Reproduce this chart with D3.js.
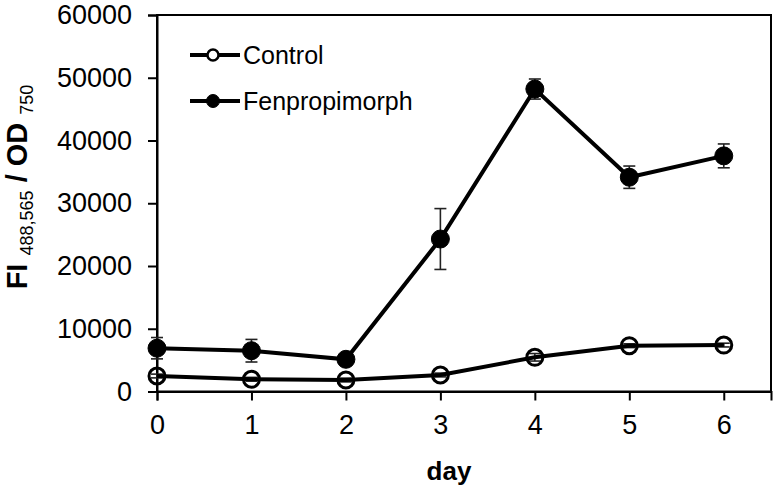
<!DOCTYPE html>
<html>
<head>
<meta charset="utf-8">
<script src="https://cdn.jsdelivr.net/npm/d3@7/dist/d3.min.js"></script>
<style>
  html, body { margin: 0; padding: 0; background: #fff; }
  svg { display: block; }
  text { font-family: "Liberation Sans", Arial, Helvetica, sans-serif; fill: #000; }
</style>
</head>
<body>
<svg id="chart" width="777" height="494"></svg>
<script>
// ---- data ----
const days = [0, 1, 2, 3, 4, 5, 6];
const controlValues = [2470, 1950, 1830, 2630, 5450, 7300, 7400];
const controlErrors = [300, 300, 300, 300, 600, 300, 300];
const fenValues = [6900, 6500, 5130, 24300, 48200, 34150, 37550];
const fenErrors = [1700, 1800, 250, 4850, 1600, 1780, 1900];
const yTicks = [0, 10000, 20000, 30000, 40000, 50000, 60000];
const xTicks = [0, 1, 2, 3, 4, 5, 6];
const seriesNames = ["Control", "Fenpropimorph"];

// ---- layout ----
const svg = d3.select("#chart");
const mLeft = 157, mRight = 771, mTop = 15, mBottom = 391.5;

const x = d3.scaleLinear().domain([0, 6.5]).range([mLeft, mRight]);
const y = d3.scaleLinear().domain([0, 60000]).range([mBottom, mTop]);

// frame
svg.append("rect")
  .attr("x", mLeft).attr("y", mTop)
  .attr("width", mRight - mLeft).attr("height", mBottom - mTop)
  .attr("fill", "none").attr("stroke", "#000").attr("stroke-width", 2);

// y axis
const yAxis = svg.append("g")
  .attr("transform", `translate(${mLeft},0)`)
  .call(d3.axisLeft(y).tickValues(yTicks).tickFormat(d3.format("d")).tickSize(9).tickPadding(16));
yAxis.select(".domain").attr("stroke-width", 2);
yAxis.selectAll(".tick line").attr("stroke-width", 2);
yAxis.selectAll(".tick text")
  .attr("font-size", 27).attr("font-family", "Liberation Sans, Arial, sans-serif").attr("fill", "#000");

// x axis
const xAxis = svg.append("g")
  .attr("transform", `translate(0,${mBottom})`)
  .call(d3.axisBottom(x).tickValues(xTicks).tickFormat(d3.format("d")).tickSize(9).tickPadding(14));
xAxis.select(".domain").attr("stroke-width", 2);
xAxis.selectAll(".tick line").attr("stroke-width", 2);
xAxis.selectAll(".tick text")
  .attr("font-size", 27).attr("font-family", "Liberation Sans, Arial, sans-serif").attr("fill", "#000");

// x label
svg.append("text")
  .attr("x", 449).attr("y", 480)
  .attr("text-anchor", "middle")
  .attr("font-size", 26).attr("font-weight", "bold")
  .text("day");

// y label
const yl = svg.append("text")
  .attr("transform", "translate(27,187) rotate(-90)")
  .attr("text-anchor", "middle")
  .attr("font-weight", "bold");
yl.append("tspan").attr("font-size", 29).text("FI ");
yl.append("tspan").attr("font-size", 18).attr("font-weight", "normal").attr("dy", 6).text("488,565");
yl.append("tspan").attr("font-size", 29).attr("dy", -6).text(" / OD ");
yl.append("tspan").attr("font-size", 18).attr("font-weight", "normal").attr("dy", 6).text("750");

// ---- series ----
const line = d3.line().x((d, i) => x(days[i])).y(d => y(d));

function drawSeries(values, errors, filled) {
  const g = svg.append("g");
  values.forEach((v, i) => {
    const e = errors[i];
    const cx = x(days[i]);
    g.append("line").attr("x1", cx).attr("x2", cx)
      .attr("y1", y(v - e)).attr("y2", y(v + e))
      .attr("stroke", "#222").attr("stroke-width", 1.6);
    [v - e, v + e].forEach(ev => {
      g.append("line").attr("x1", cx - 6).attr("x2", cx + 6)
        .attr("y1", y(ev)).attr("y2", y(ev))
        .attr("stroke", "#222").attr("stroke-width", 1.6);
    });
  });
  g.append("path").datum(values)
    .attr("d", line)
    .attr("fill", "none").attr("stroke", "#000").attr("stroke-width", 4);
  g.selectAll("circle").data(values).join("circle")
    .attr("cx", (d, i) => x(days[i]))
    .attr("cy", d => y(d))
    .attr("r", filled ? 9 : 8)
    .attr("fill", filled ? "#000" : "none")
    .attr("stroke", "#000")
    .attr("stroke-width", filled ? 1 : 3);
}

drawSeries(controlValues, controlErrors, false);
drawSeries(fenValues, fenErrors, true);

// ---- legend ----
const legendY = [55, 101];
seriesNames.forEach((name, i) => {
  const ly = legendY[i];
  svg.append("line").attr("x1", 190).attr("x2", 240)
    .attr("y1", ly).attr("y2", ly)
    .attr("stroke", "#000").attr("stroke-width", 4);
  svg.append("circle").attr("cx", 213).attr("cy", ly)
    .attr("r", i === 0 ? 5.5 : 6.5)
    .attr("fill", i === 0 ? "#fff" : "#000")
    .attr("stroke", "#000").attr("stroke-width", i === 0 ? 2.5 : 1);
  svg.append("text").attr("x", 243).attr("y", ly)
    .attr("dy", "0.36em")
    .attr("font-size", 25)
    .text(name);
});
</script>
</body>
</html>
